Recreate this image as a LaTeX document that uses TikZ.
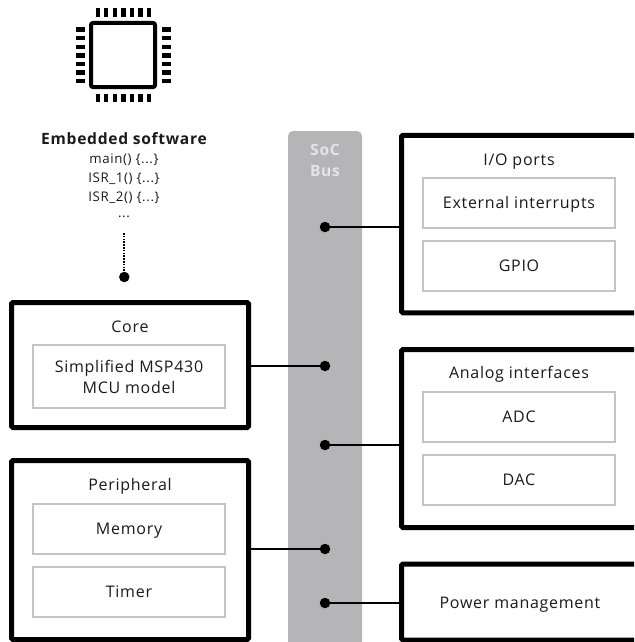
\documentclass[tikz,border=0pt]{standalone}
\usepackage{fontspec}
\setmainfont[LetterSpace=4.5]{Open Sans}
\tikzset{
 x=1pt,y=-1pt,
 outerbox/.style={draw=black,line width=5pt,rounded corners=1.5pt,inner sep=0pt,fill=white},
 innerbox/.style={draw=innergray,line width=1.8pt,fill=white,inner sep=0pt,minimum width=192pt,align=center,font=\lbl,text=txt},
 oneline/.style={text height=11pt,text depth=0pt},
 title/.style={inner sep=0pt,font=\lbl,text=txt,align=center,oneline},
 codeline/.style={inner sep=0pt,font=\codefont,text=txt,text height=10pt,text depth=0pt},
 headtext/.style={inner sep=0pt,font=\bfseries\fontsize{15.6}{18}\selectfont,text height=11pt,text depth=0pt},
 busdot/.style={circle,fill=black,inner sep=0pt,minimum size=10.5pt},
 wire/.style={draw=black,line width=1.3pt},
 pin/.style={fill=black,inner sep=0pt},
}
\definecolor{innergray}{HTML}{C4C4C4}
\definecolor{busgray}{HTML}{B5B5B7}
\definecolor{buslabel}{HTML}{E4E4E6}
\definecolor{txt}{HTML}{1A1A1A}
\newcommand{\lbl}{\fontsize{16}{21}\selectfont}
\newcommand{\codefont}{\fontsize{13.3}{16}\selectfont}
\begin{document}
\begin{tikzpicture}
\useasboundingbox (0,0) rectangle (634,642);
\clip (0,0) rectangle (634,642);
% chip
\draw[line width=4pt,rounded corners=2pt] (91,23) rectangle (155,87);
\foreach \i in {0,...,6}{
 \pgfmathsetmacro{\p}{97.7+8.58*\i}
 \pgfmathsetmacro{\q}{29.7+8.58*\i}
 \fill[pin] (\p-2.2,8.5) rectangle (\p+2.2,16.8);
 \fill[pin] (\p-2.2,94.3) rectangle (\p+2.2,102.3);
 \fill[pin] (76.2,\q-2.2) rectangle (85,\q+2.2);
 \fill[pin] (161.8,\q-2.2) rectangle (170.6,\q+2.2);
}
% software
\node[headtext,text=txt] (sw) at (124,139) {Embedded software};
\node[codeline] (m) at (124,158) {main() \{...\}};
\node[codeline] (i1) at (124,177) {ISR\_1() \{...\}};
\node[codeline] (i2) at (124,196) {ISR\_2() \{...\}};
\node[codeline] (dd) at (124,212) {...};
\node[busdot] (swdot) at (124.3,277) {};
\coordinate (swtop) at (124.3,233);
\draw[line width=1.8pt,dash pattern=on 1.5pt off 1.3pt] (swtop) -- (swdot);
% bus
\node[fill=busgray,rounded corners=5pt,minimum width=74pt,minimum height=521pt,inner sep=0pt] (bus) at (325,391.5) {};
\node[headtext,text=buslabel] (soc) at (325,150) {SoC};
\node[headtext,text=buslabel] (busl) at (325,171) {Bus};
% outer boxes
\node[outerbox,minimum width=237pt,minimum height=125pt] (core) at (130,365) {};
\node[outerbox,minimum width=237pt,minimum height=179pt] (peri) at (130,550) {};
\node[outerbox,minimum width=260pt,minimum height=177.5pt] (io) at (531.5,224) {};
\node[outerbox,minimum width=260pt,minimum height=178pt] (ana) at (531.5,438.5) {};
\node[outerbox,minimum width=260pt,minimum height=76pt] (pow) at (531.5,602) {};
% titles
\node[title] (coret) at (130,327) {Core};
\node[title] (perit) at (130,485) {Peripheral};
\node[title] (iot) at (519,160) {I/O ports};
\node[title] (anat) at (519,373) {Analog interfaces};
\node[title] (powt) at (520,603) {Power management};
% inner boxes
\node[innerbox,minimum height=63pt] (mcu) at (129,376.5) {};
\node[title] (mcua) at (129,367) {Simplified MSP430};
\node[title] (mcub) at (129,388) {MCU model};
\node[innerbox,oneline,minimum height=50pt] (mem) at (129,529) {Memory};
\node[innerbox,oneline,minimum height=50pt] (tim) at (129,592) {Timer};
\node[innerbox,oneline,minimum height=50pt] (ext) at (519,203) {External interrupts};
\node[innerbox,oneline,minimum height=50pt] (gpio) at (519,266) {GPIO};
\node[innerbox,oneline,minimum height=50pt] (adc) at (519,417) {ADC};
\node[innerbox,oneline,minimum height=50pt] (dac) at (519,480) {DAC};
% dots and wires
\node[busdot] (d1) at (325,227) {};
\node[busdot] (d2) at (325,366) {};
\node[busdot] (d3) at (325,445) {};
\node[busdot] (d4) at (325,549) {};
\node[busdot] (d5) at (325,603) {};
\draw[wire] (d1) -- (d1 -| io.west);
\draw[wire] (d2) -- (d2 -| core.east);
\draw[wire] (d3) -- (d3 -| ana.west);
\draw[wire] (d4) -- (d4 -| peri.east);
\draw[wire] (d5) -- (d5 -| pow.west);
\end{tikzpicture}
\end{document}
